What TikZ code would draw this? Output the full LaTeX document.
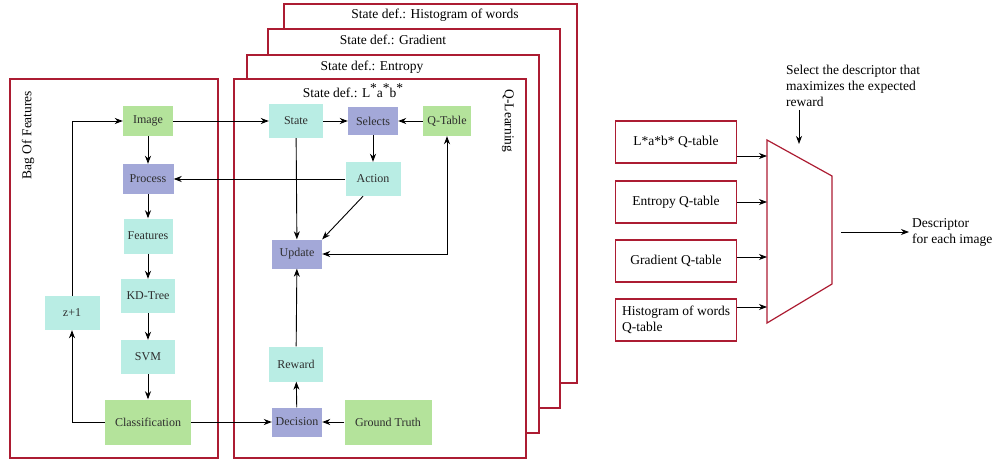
\documentclass[tikz,border=0pt]{standalone}
\usepackage{fontspec}
\setmainfont{Liberation Serif}
\usetikzlibrary{arrows.meta,calc}
\definecolor{frameRed}{RGB}{172,28,50}
\definecolor{boxGreen}{RGB}{180,227,155}
\definecolor{boxBlue}{RGB}{163,168,216}
\definecolor{boxCyan}{RGB}{185,237,228}
\newcommand{\upstar}{\raisebox{0.38em}{*}}
\begin{document}
\begin{tikzpicture}[x=1pt,y=-1pt,
  frame/.style={draw=frameRed,line width=1.6pt,fill=white},
  blk/.style={inner sep=0pt,font=\fontsize{12}{14}\selectfont,text=black!82},
  greenblk/.style={blk,fill=boxGreen},
  blueblk/.style={blk,fill=boxBlue},
  cyanblk/.style={blk,fill=boxCyan},
  conn/.style={line width=0.9pt,-{Stealth[length=8pt,width=6pt,inset=2.5pt]}},
  biconn/.style={line width=0.9pt,{Stealth[length=8pt,width=6pt,inset=2.5pt]}-{Stealth[length=8pt,width=6pt,inset=2.5pt]}},
  lbl/.style={font=\fontsize{13.5}{16}\selectfont},
  qbox/.style={draw=frameRed,line width=1.4pt,minimum width=121pt,minimum height=42pt,inner sep=0pt,lbl}
]
\useasboundingbox (0,0) rectangle (995,461);

% stacked Q-learning frames, one per state definition
\draw[frame] (284,4) rectangle (577,383);
\draw[frame] (268,29) rectangle (560,408);
\draw[frame] (247,55) rectangle (539,433);
\draw[frame] (234,79) rectangle (526,458);
\node[lbl] (t4) at (435,15) {State def.: Histogram of words};
\node[lbl] (t3) at (393,40) {State def.: Gradient};
\node[lbl] (t2) at (372,67) {State def.: Entropy};
\node[lbl] (t1) at (353,91) {State def.: L\upstar a\upstar b\upstar};
\node[lbl,rotate=-90] (ql) at (508,121) {Q-Learning};

% bag of features frame
\draw[frame] (10,79) rectangle (218,458);
\node[lbl,rotate=90] (bof) at (28,135) {Bag Of Features};

% bag of features pipeline
\node[greenblk,minimum width=50pt,minimum height=30pt] (img) at (148,121) {Image};
\node[blueblk,minimum width=51pt,minimum height=30pt] (proc) at (148,179) {Process};
\node[cyanblk,minimum width=49pt,minimum height=35pt] (feat) at (148,236) {Features};
\node[cyanblk,minimum width=54pt,minimum height=34pt] (kdt) at (148,296) {KD-Tree};
\node[cyanblk,minimum width=54pt,minimum height=34pt] (svm) at (148,357) {SVM};
\node[greenblk,minimum width=86pt,minimum height=45pt] (cls) at (148,422) {Classification};
\node[cyanblk,minimum width=55pt,minimum height=34pt] (zp) at (72,313) {z+1};

% Q-learning blocks
\node[cyanblk,minimum width=54pt,minimum height=34pt] (st) at (296,121) {State};
\node[blueblk,minimum width=50pt,minimum height=28pt] (sel) at (373,121) {Selects};
\node[greenblk,minimum width=48pt,minimum height=30pt] (qt) at (447,121) {Q-Table};
\node[cyanblk,minimum width=55pt,minimum height=34pt] (act) at (373,179) {Action};
\node[blueblk,minimum width=50pt,minimum height=29pt] (upd) at (297,254) {Update};
\node[cyanblk,minimum width=54pt,minimum height=35pt] (rew) at (296,364) {Reward};
\node[blueblk,minimum width=50pt,minimum height=29pt] (dec) at (297,422) {Decision};
\node[greenblk,minimum width=87pt,minimum height=45pt] (gt) at (388,422) {Ground Truth};

% pipeline connectors
\draw[conn] (img) -- (proc);
\draw[conn] (proc) -- (feat);
\draw[conn] (feat) -- (kdt);
\draw[conn] (kdt) -- (svm);
\draw[conn] (svm) -- (cls);
\draw[conn] (cls.west) -| (zp.south);
\draw[conn] (zp.north) |- (img.west);
\draw[conn] (img.east) -- (st.west);
\draw[conn] (cls.east) -- (dec.west);

% Q-learning connectors
\draw[conn] (st) -- (sel);
\draw[conn] (qt) -- (sel);
\draw[conn] (sel) -- (act);
\draw[conn] (act.west) -- (proc.east);
\draw[conn] (st) -- (upd);
\draw[conn] (act.240) -- (upd.north east);
\draw[biconn] (upd.east) -| (qt.south);
\draw[conn] (rew) -- (upd);
\draw[conn] (dec) -- (rew);
\draw[conn] (gt) -- (dec);

% descriptor selection
\node[qbox] (qlab) at (676,142) {L*a*b* Q-table};
\node[qbox] (qent) at (676,202) {Entropy Q-table};
\node[qbox] (qgrad) at (676,261) {Gradient Q-table};
\node[qbox,align=left] (qhist) at (676,320) {Histogram of words\\Q-table};
\coordinate (tl) at (767,140);
\coordinate (tr) at (832,176);
\coordinate (br) at (832,284);
\coordinate (bl) at (767,323);
\draw[draw=frameRed,line width=1.2pt] (tl) -- (tr) -- (br) -- (bl) -- cycle;
\draw[conn] ([yshift=-14pt]qlab.east) -- ([yshift=-14pt]qlab.east -| tl);
\draw[conn] (qent.east) -- (qent.east -| tl);
\draw[conn] ([yshift=4pt]qgrad.east) -- ([yshift=4pt]qgrad.east -| tl);
\draw[conn] ([yshift=13pt]qhist.east) -- ([yshift=13pt]qhist.east -| tl);

\node[lbl,align=left,anchor=north west,inner sep=0pt] (seltxt) at (786,65) {Select the descriptor that\\maximizes the expected\\reward};
\coordinate (selTip) at (799,144);
\draw[conn] (seltxt.south -| selTip) ++(0,3) -- (selTip);

\coordinate (outStart) at (841,232);
\node[lbl,align=left,anchor=west,inner sep=3pt] (desc) at (909,232) {Descriptor\\for each image};
\draw[conn] (outStart) -- (desc.west);
\end{tikzpicture}
\end{document}
